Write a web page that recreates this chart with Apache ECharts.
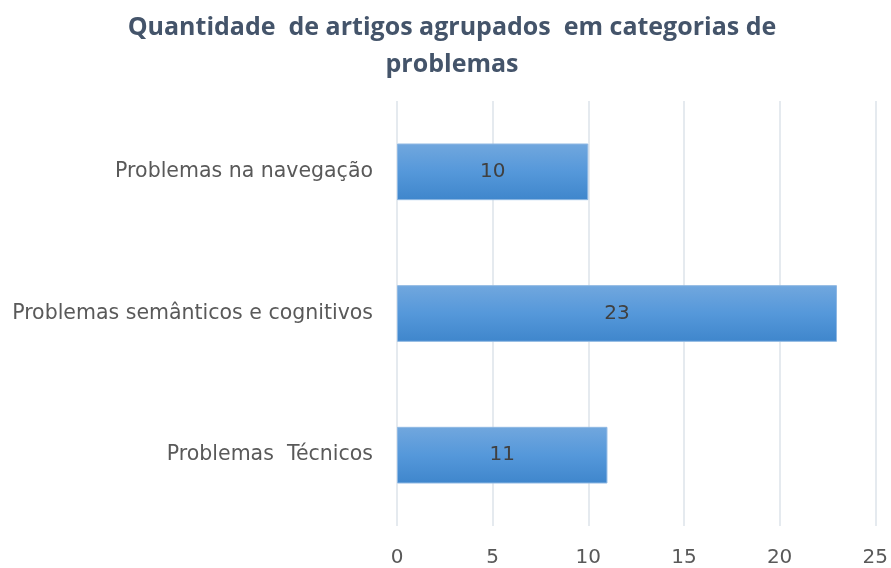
<!DOCTYPE html>
<html>
<head>
<meta charset="utf-8">
<script src="https://cdn.jsdelivr.net/npm/echarts@6/dist/echarts.min.js"></script>
<style>
    html, body { margin: 0; padding: 0; background: #fff; }
    #main { width: 891px; height: 568px; }
</style>
</head>
<body>
<div id="main"></div>
<script>
    var categories = ['Problemas  Técnicos', 'Problemas semânticos e cognitivos', 'Problemas na navegação'];
    var values = [11, 23, 10];
    var xTicks = [0, 5, 10, 15, 20, 25];

    var myChart = echarts.init(document.getElementById('main'));
    var option = {
        textStyle: { fontFamily: 'DejaVu Sans' },
        title: {
            text: 'Quantidade  de artigos agrupados  em categorias de\nproblemas',
            left: 447,
            top: 4,
            textAlign: 'center',
            textStyle: {
                fontSize: 25,
                fontWeight: 'bold',
                color: '#44546a',
                lineHeight: 37,
                fontFamily: 'Open Sans'
            }
        },
        grid: {
            left: 397,
            right: 14,
            top: 101,
            bottom: 41
        },
        xAxis: {
            type: 'value',
            min: xTicks[0],
            max: xTicks[xTicks.length - 1],
            interval: 5,
            axisLine: { show: false },
            axisTick: { show: false },
            axisLabel: {
                fontSize: 20,
                color: '#595959',
                margin: 22
            },
            splitLine: {
                show: true,
                lineStyle: { color: '#dde3ea', width: 1.5 }
            }
        },
        yAxis: {
            type: 'category',
            data: categories,
            axisLine: { show: false },
            axisTick: { show: false },
            axisLabel: {
                fontSize: 20.5,
                color: '#595959',
                margin: 24
            }
        },
        series: [
            {
                type: 'bar',
                data: values,
                barWidth: '40%',
                itemStyle: {
                    borderColor: '#8fb8e3',
                    borderWidth: 1,
                    color: {
                        type: 'linear',
                        x: 0, y: 0, x2: 0, y2: 1,
                        colorStops: [
                            { offset: 0, color: '#71a7de' },
                            { offset: 0.5, color: '#5598da' },
                            { offset: 1, color: '#3f86cc' }
                        ]
                    }
                },
                label: {
                    show: true,
                    position: 'inside',
                    fontSize: 20,
                    color: '#404040'
                }
            }
        ]
    };
    myChart.setOption(option);
</script>
</body>
</html>
